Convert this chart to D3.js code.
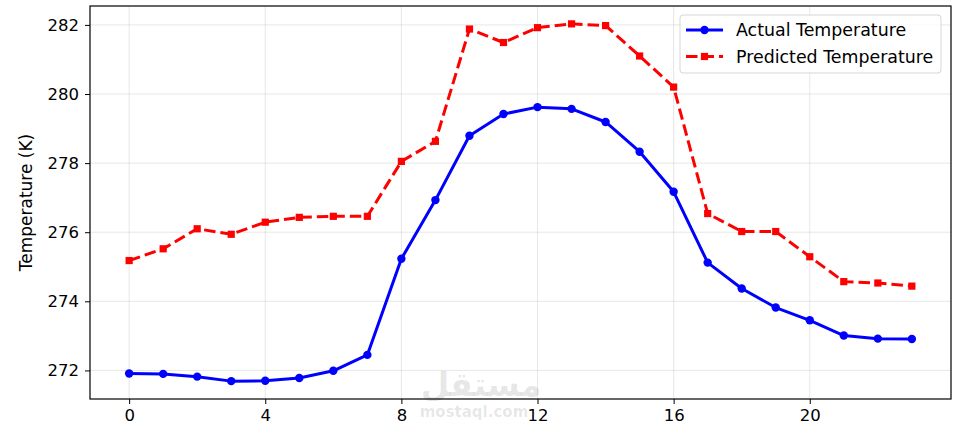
<!DOCTYPE html>
<html>
<head>
<meta charset="utf-8">
<script src="https://cdn.jsdelivr.net/npm/d3@7"></script>
<style>
  body { margin: 0; background: #fff; }
  svg { display: block; font-family: "DejaVu Sans", sans-serif; }
</style>
</head>
<body>
<script>
// hours and temperatures (K)
var hours = d3.range(0, 24);
var actual = [271.91, 271.90, 271.82, 271.69, 271.70, 271.78, 271.99, 272.45,
              275.23, 276.93, 278.79, 279.42, 279.62, 279.57, 279.19, 278.33,
              277.17, 275.12, 274.37, 273.82, 273.45, 273.01, 272.92, 272.91];
var predicted = [275.18, 275.52, 276.10, 275.94, 276.29, 276.43, 276.46, 276.46,
                 278.05, 278.63, 281.88, 281.49, 281.92, 282.03, 281.98, 281.10,
                 280.20, 276.54, 276.02, 276.02, 275.29, 274.57, 274.53, 274.44];
var xTicks = [0, 4, 8, 12, 16, 20];
var yTicks = [272, 274, 276, 278, 280, 282];
var seriesNames = ["Actual Temperature", "Predicted Temperature"];

var W = 962, H = 430,
    margin = { top: 6, right: 11, bottom: 31, left: 90 },
    width = W - margin.left - margin.right,
    height = H - margin.top - margin.bottom;

var svg = d3.select("body").append("svg").attr("width", W).attr("height", H);
var g = svg.append("g").attr("transform", "translate(" + margin.left + "," + margin.top + ")");

// matplotlib style 5% padding
function pad(ext) { var d = (ext[1] - ext[0]) * 0.05; return [ext[0] - d, ext[1] + d]; }
var x = d3.scaleLinear().domain(pad(d3.extent(hours))).range([0, width]);
var y = d3.scaleLinear().domain(pad(d3.extent(actual.concat(predicted)))).range([height, 0]);

// grid
g.append("g").selectAll("line").data(xTicks).enter().append("line")
    .attr("x1", d => x(d)).attr("x2", d => x(d)).attr("y1", 0).attr("y2", height)
    .attr("stroke", "#b0b0b0").attr("stroke-opacity", 0.3).attr("stroke-width", 1);
g.append("g").selectAll("line").data(yTicks).enter().append("line")
    .attr("y1", d => y(d)).attr("y2", d => y(d)).attr("x1", 0).attr("x2", width)
    .attr("stroke", "#b0b0b0").attr("stroke-opacity", 0.3).attr("stroke-width", 1);

// lines
var line = d3.line().x((d, i) => x(hours[i])).y(d => y(d));
g.append("path").attr("d", line(actual)).attr("fill", "none")
    .attr("stroke", "#0000ff").attr("stroke-width", 3).attr("stroke-linejoin", "round");
g.selectAll(".dotA").data(actual).enter().append("circle")
    .attr("cx", (d, i) => x(hours[i])).attr("cy", d => y(d)).attr("r", 4.2).attr("fill", "#0000ff");

g.append("path").attr("d", line(predicted)).attr("fill", "none")
    .attr("stroke", "#ff0000").attr("stroke-width", 3).attr("stroke-dasharray", "11.5,5");
g.selectAll(".dotP").data(predicted).enter().append("rect")
    .attr("x", (d, i) => x(hours[i]) - 3.6).attr("y", d => y(d) - 3.6)
    .attr("width", 7.2).attr("height", 7.2).attr("fill", "#ff0000");

// axes
var xAxis = g.append("g").attr("transform", "translate(0," + height + ")")
    .call(d3.axisBottom(x).tickValues(xTicks).tickSizeOuter(0).tickSize(5).tickPadding(5));
var yAxis = g.append("g")
    .call(d3.axisLeft(y).tickValues(yTicks).tickSizeOuter(0).tickSize(5).tickPadding(6));
svg.selectAll(".tick text").style("font-size", "16.5px").style("font-family", "DejaVu Sans").attr("fill", "#000");
svg.selectAll(".tick line").attr("stroke", "#000");
svg.selectAll(".domain").remove();

g.append("rect").attr("width", width).attr("height", height)
    .attr("fill", "none").attr("stroke", "#000").attr("stroke-width", 1.2);

svg.append("text").attr("transform", "translate(32," + (margin.top + height / 2) + ") rotate(-90)")
    .attr("text-anchor", "middle").style("font-size", "17px").text("Temperature (K)");

// watermark (faint, drawn over the frame like the original)
var wm = svg.append("g").attr("fill", "#000").attr("fill-opacity", 0.1);
wm.append("text").attr("x", 481).attr("y", 396).attr("text-anchor", "middle")
    .style("font-size", "33px").style("font-weight", "bold").text("مستقل");
wm.append("text").attr("x", 474).attr("y", 417).attr("text-anchor", "middle")
    .style("font-size", "15px").style("font-weight", "bold").text("mostaql.com");

// legend
var lg = g.append("g").attr("transform", "translate(" + (680 - margin.left) + "," + (15 - margin.top) + ")");
lg.append("rect").attr("width", 261).attr("height", 58).attr("rx", 3)
    .attr("fill", "#fff").attr("fill-opacity", 0.8).attr("stroke", "#d6d6d6");
seriesNames.forEach(function(name, i) {
  var yy = 15 + i * 26.5;
  var row = lg.append("g");
  if (i === 0) {
    row.append("line").attr("x1", 6).attr("x2", 43).attr("y1", yy).attr("y2", yy)
        .attr("stroke", "#0000ff").attr("stroke-width", 3);
    row.append("circle").attr("cx", 24.5).attr("cy", yy).attr("r", 4.2).attr("fill", "#0000ff");
  } else {
    row.append("line").attr("x1", 6).attr("x2", 43).attr("y1", yy).attr("y2", yy)
        .attr("stroke", "#ff0000").attr("stroke-width", 3).attr("stroke-dasharray", "11.5,5");
    row.append("rect").attr("x", 24.5 - 3.6).attr("y", yy - 3.6).attr("width", 7.2).attr("height", 7.2).attr("fill", "#ff0000");
  }
  row.append("text").attr("x", 56).attr("y", yy).attr("dy", "0.35em")
      .style("font-size", "17.4px").text(name);
});
</script>
</body>
</html>
